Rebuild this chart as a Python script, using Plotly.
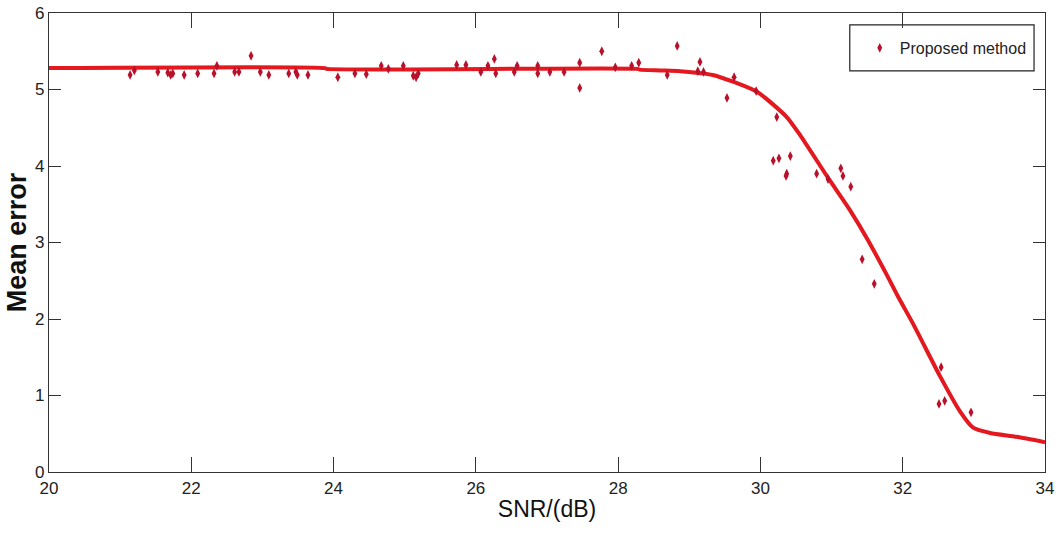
import plotly.graph_objects as go

# Scatter measurements (SNR in dB, mean error)
snr_pts = [21.14, 21.20, 21.53, 21.67, 21.71, 21.74, 21.90, 22.09, 22.32, 22.36, 22.61, 22.67, 22.84,
           22.97, 23.09, 23.37, 23.47, 23.49, 23.64, 24.06, 24.30, 24.46, 24.67, 24.77, 24.98, 25.12,
           25.16, 25.19, 25.73, 25.86, 26.07, 26.17, 26.26, 26.28, 26.54, 26.58, 26.87, 26.87, 27.04,
           27.24, 27.46, 27.46, 27.77, 27.96, 28.19, 28.29, 28.69, 28.83, 29.15, 29.12, 29.20, 29.53,
           29.63, 29.94, 30.23, 30.18, 30.26, 30.42, 30.37, 30.36, 30.79, 30.95, 31.13, 31.16, 31.27,
           31.43, 31.60, 32.54, 32.51, 32.59, 32.96]
err_pts = [5.19, 5.25, 5.23, 5.22, 5.19, 5.21, 5.19, 5.21, 5.21, 5.31, 5.23, 5.23, 5.44,
           5.23, 5.19, 5.21, 5.23, 5.19, 5.19, 5.16, 5.21, 5.20, 5.31, 5.27, 5.31, 5.18,
           5.16, 5.21, 5.32, 5.32, 5.23, 5.31, 5.40, 5.21, 5.23, 5.31, 5.31, 5.21, 5.23,
           5.23, 5.35, 5.02, 5.50, 5.29, 5.31, 5.35, 5.19, 5.57, 5.36, 5.24, 5.23, 4.89,
           5.16, 4.98, 4.64, 4.07, 4.10, 4.13, 3.90, 3.87, 3.90, 3.83, 3.97, 3.87, 3.73,
           2.78, 2.46, 1.37, 0.89, 0.93, 0.78]

# Fitted curve
fit_x = [20, 23.88, 23.9, 28.27, 28.3, 28.6, 28.87, 29.33, 29.95, 30.37, 30.56, 30.94, 31.26, 31.5,
         31.78, 31.93, 32.15, 32.52, 32.8, 32.99, 33.23, 33.6, 34]
fit_y = [5.28, 5.28, 5.27, 5.27, 5.26, 5.25, 5.24, 5.19, 4.97, 4.64, 4.40, 3.86, 3.42, 3.05,
         2.57, 2.30, 1.93, 1.26, 0.80, 0.58, 0.51, 0.46, 0.39]

x_ticks = [20, 22, 24, 26, 28, 30, 32, 34]
y_ticks = [0, 1, 2, 3, 4, 5, 6]

SANS = "Liberation Sans, Arial, sans-serif"

fig = go.Figure()
fig.add_trace(go.Scatter(x=fit_x, y=fit_y, mode="lines",
                         line=dict(color="#e3191f", width=4, shape="spline", smoothing=0.6),
                         showlegend=False, hoverinfo="skip"))
fig.add_trace(go.Scatter(x=snr_pts, y=err_pts, mode="markers", name="Proposed method",
                         marker=dict(symbol="diamond-tall", size=7, color="#b8112b", line=dict(width=0))))

axis_common = dict(showgrid=False, zeroline=False, showline=True, linecolor="#333333", linewidth=1.3,
                   mirror="allticks", ticks="inside", tickcolor="#333333", tickwidth=1, automargin=False,
                   tickfont=dict(family=SANS, size=17, color="#222222"))

fig.update_layout(
    width=1056, height=538,
    margin=dict(l=49, r=11, t=13, b=66),
    paper_bgcolor="white", plot_bgcolor="white",
    xaxis=dict(range=[20, 34], tickvals=x_ticks, ticklen=15,
               title=dict(text="SNR/(dB)", font=dict(family=SANS, size=23, color="#111111"), standoff=4),
               **axis_common),
    yaxis=dict(range=[0, 6], tickvals=y_ticks, ticklen=12,
               title=dict(text="<b>Mean error</b>", font=dict(family=SANS, size=27, color="#111111"), standoff=0),
               **axis_common),
    legend=dict(x=0.814, y=0.924, xanchor="left", yanchor="middle", bgcolor="rgba(0,0,0,0)",
                borderwidth=0, font=dict(family=SANS, size=16, color="#222222")),
    shapes=[dict(type="rect", xref="paper", yref="paper", x0=0.804, x1=0.989, y0=0.874, y1=0.974,
                 line=dict(color="#222222", width=1.2), fillcolor="white", layer="below")],
    showlegend=True,
)

fig.write_html("out.html")
